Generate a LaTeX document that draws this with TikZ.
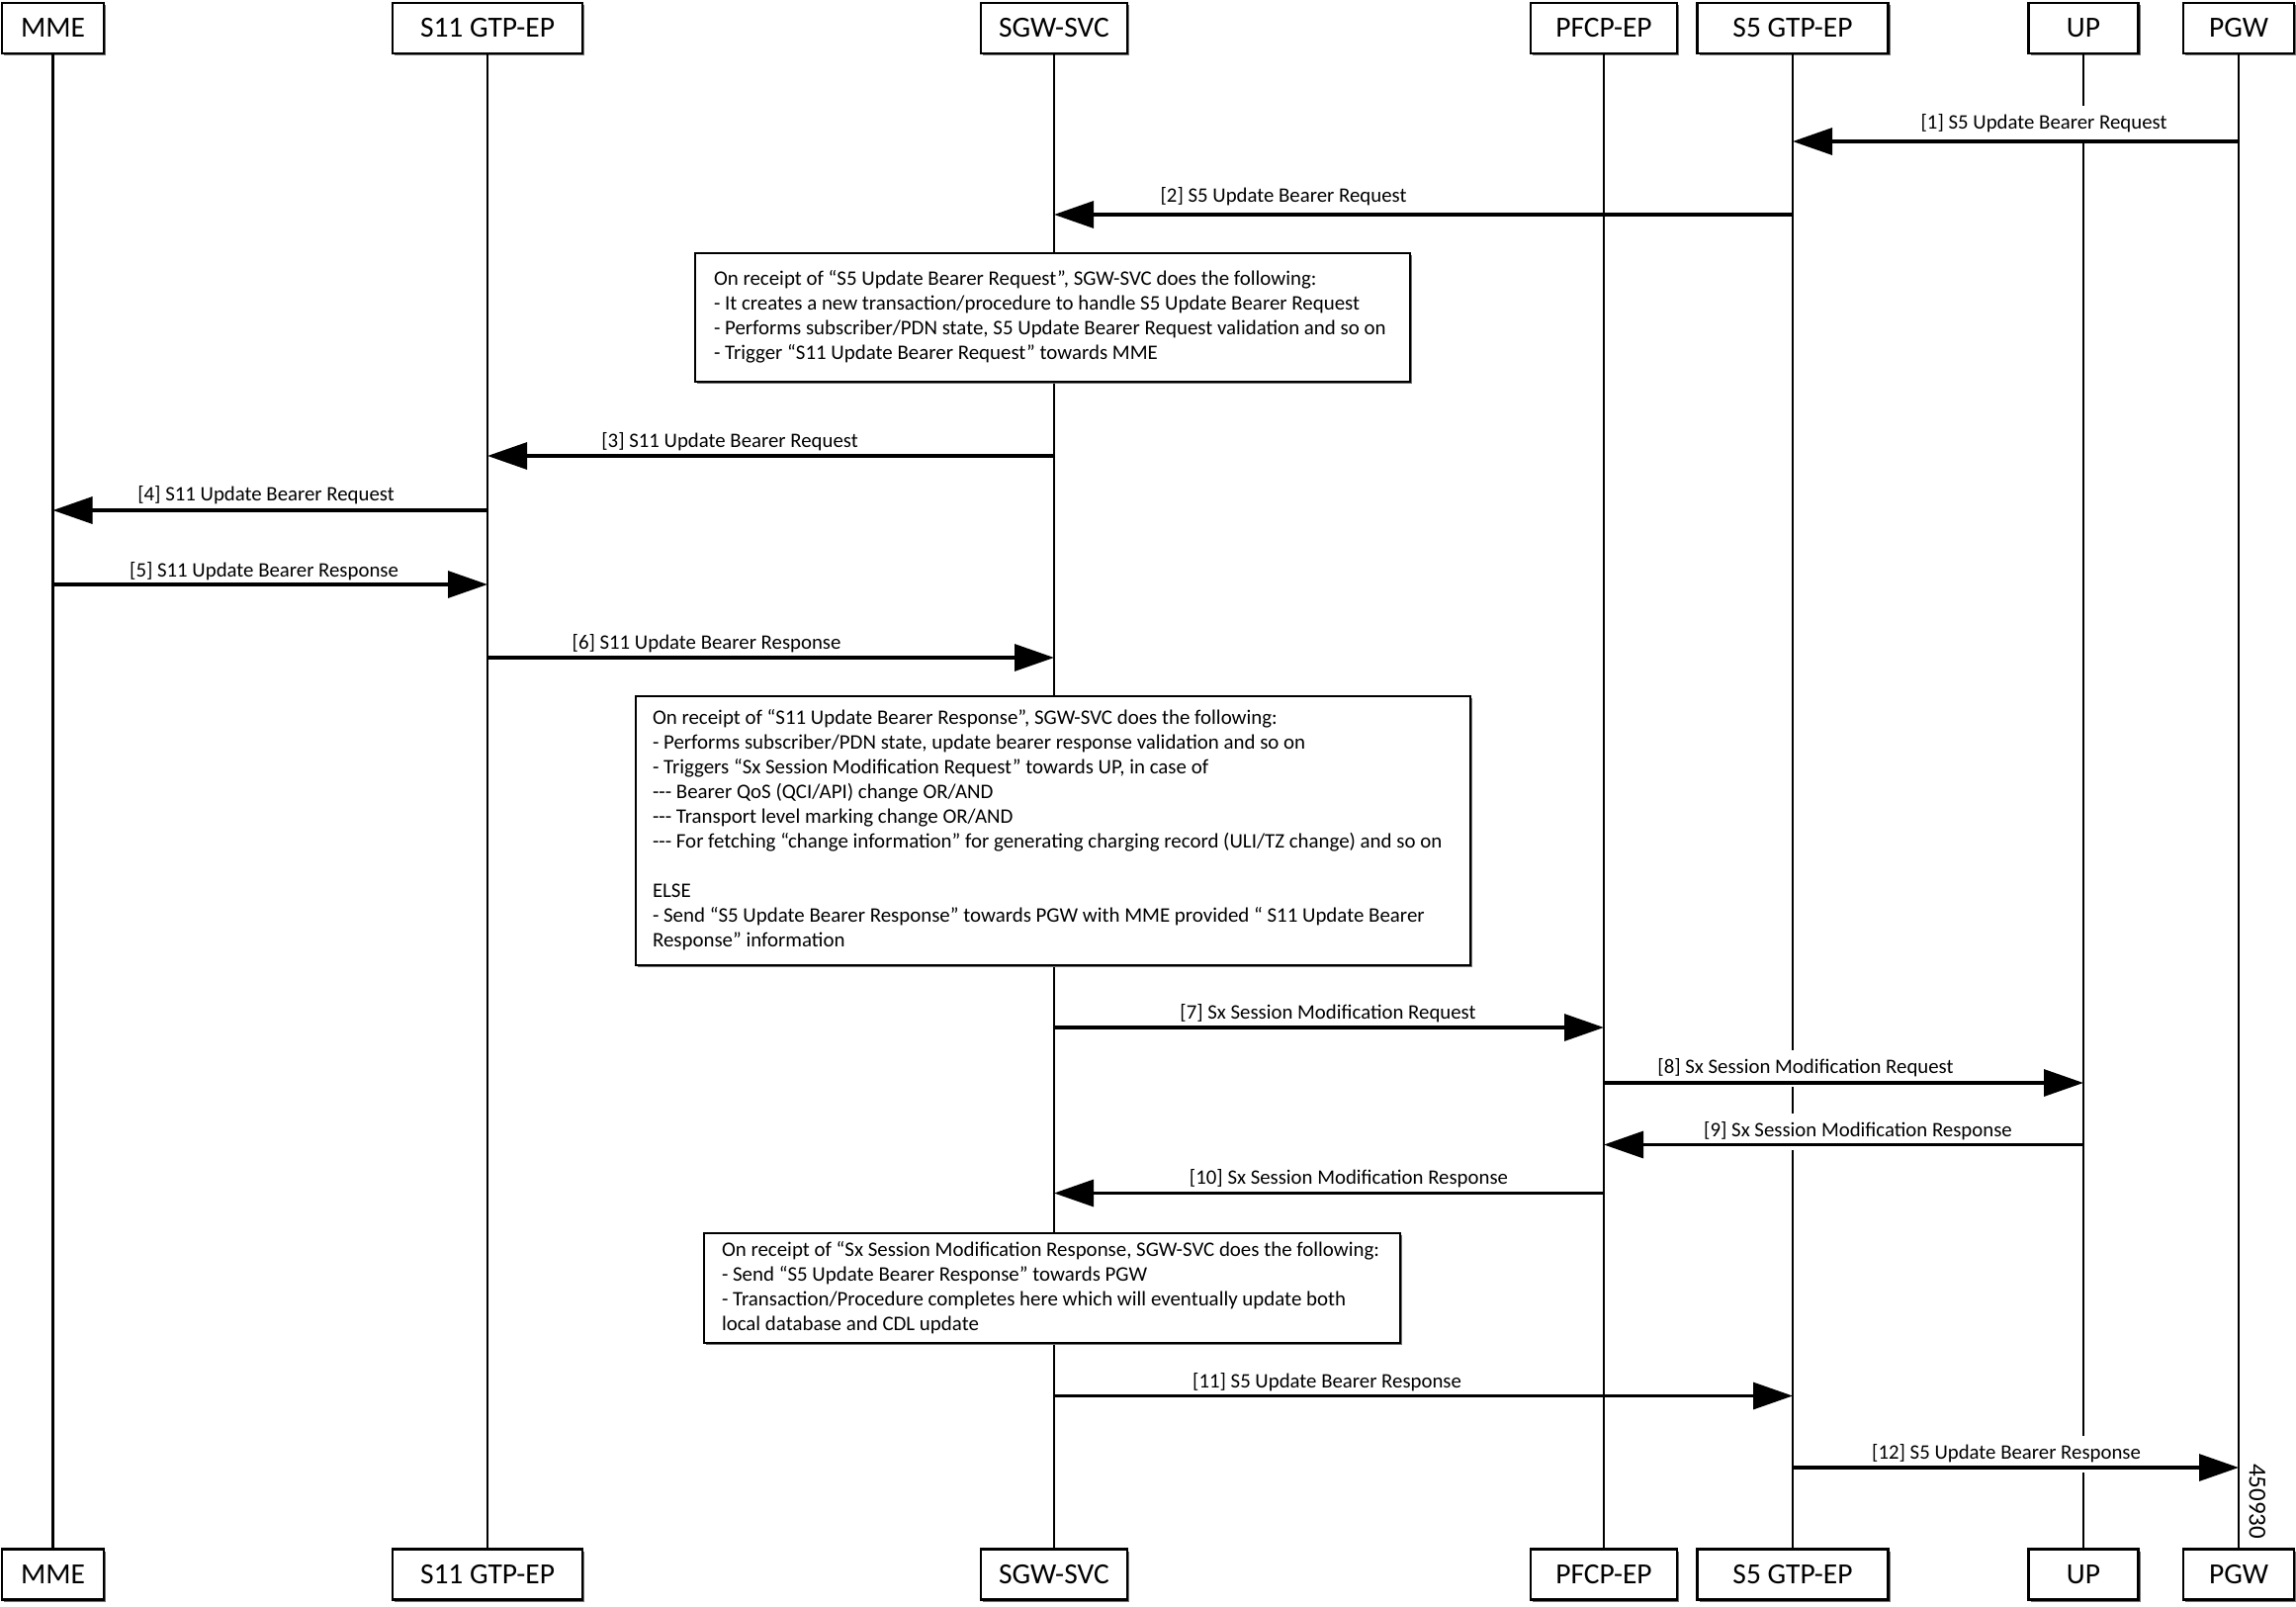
\documentclass[tikz,border=0pt]{standalone}
\usepackage{fontspec}
\setmainfont{Carlito}
\usetikzlibrary{arrows.meta,shadows}
\tikzset{
  shad/.style={drop shadow={shadow xshift=2pt,shadow yshift=-2pt,fill=black!55,opacity=1}},
  head/.style={draw,line width=2.6pt,fill=white,shad,minimum height=51pt,inner sep=0pt,
    font=\fontsize{29.5}{35}\selectfont},
  life/.style={line width=2.8pt},
  msg/.style={line width=3.2pt,-{Triangle[length=40pt,width=27pt]}},
  lbl/.style={fill=white,inner xsep=2pt,inner ysep=0pt,text height=15pt,text depth=5pt,
    minimum height=37pt,font=\fontsize{20.8}{25}\selectfont},
  note/.style={draw,line width=2.6pt,fill=white,shad,inner ysep=0pt,
    font=\fontsize{20.9}{25}\selectfont},
}
\newcommand\notebody[2]{\makebox[#1][l]{\begin{tabular}{@{}l@{}}#2\end{tabular}}}
\begin{document}
\begin{tikzpicture}[x=1pt,y=-1pt]
\useasboundingbox (0,0) rectangle (2322,1625);
% heads (top)
\node[head,minimum width=103pt] (mme)  at (53.5,28.5) {MME};
\node[head,minimum width=192pt] (s11)  at (493,28.5)  {S11 GTP-EP};
\node[head,minimum width=148pt] (sgw)  at (1066,28.5) {SGW-SVC};
\node[head,minimum width=148pt] (pfcp) at (1622,28.5) {PFCP-EP};
\node[head,minimum width=193pt] (s5)   at (1813,28.5) {S5 GTP-EP};
\node[head,minimum width=111pt] (up)   at (2107,28.5) {UP};
\node[head,minimum width=112pt] (pgw)  at (2264,28.5) {PGW};
% heads (bottom)
\node[head,minimum width=103pt] (mmeB)  at (53.5,1592) {MME};
\node[head,minimum width=192pt] (s11B)  at (493,1592)  {S11 GTP-EP};
\node[head,minimum width=148pt] (sgwB)  at (1066,1592) {SGW-SVC};
\node[head,minimum width=148pt] (pfcpB) at (1622,1592) {PFCP-EP};
\node[head,minimum width=193pt] (s5B)   at (1813,1592) {S5 GTP-EP};
\node[head,minimum width=111pt] (upB)   at (2107,1592) {UP};
\node[head,minimum width=112pt] (pgwB)  at (2264,1592) {PGW};
% lifelines
\foreach \a in {mme,s11,sgw,pfcp,s5,up,pgw}{
  \draw[life] (\a.south) -- (\a B.north);
}
% labels
\node[lbl] (l1)  at (2067,125)  {[1] S5 Update Bearer Request};
\node[lbl] (l2)  at (1298,199)  {[2] S5 Update Bearer Request};
\node[lbl] (l3)  at (738,447)   {[3] S11 Update Bearer Request};
\node[lbl] (l4)  at (269,501)   {[4] S11 Update Bearer Request};
\node[lbl] (l5)  at (267,578)   {[5] S11 Update Bearer Response};
\node[lbl] (l6)  at (714.5,651) {[6] S11 Update Bearer Response};
\node[lbl] (l7)  at (1343,1025) {[7] Sx Session Modification Request};
\node[lbl] (l8)  at (1826,1080) {[8] Sx Session Modification Request};
\node[lbl] (l9)  at (1879,1144) {[9] Sx Session Modification Response};
\node[lbl] (l10) at (1364,1192) {[10] Sx Session Modification Response};
\node[lbl] (l11) at (1342,1398) {[11] S5 Update Bearer Response};
\node[lbl] (l12) at (2029,1470) {[12] S5 Update Bearer Response};
% messages
\draw[msg] (pgw |- 0,143)    -- (s5 |- 0,143);
\draw[msg] (s5 |- 0,217)     -- (sgw |- 0,217);
\draw[msg] (sgw |- 0,461)    -- (s11 |- 0,461);
\draw[msg] (s11 |- 0,516)    -- (mme |- 0,516);
\draw[msg] (mme |- 0,591)    -- (s11 |- 0,591);
\draw[msg] (s11 |- 0,665)    -- (sgw |- 0,665);
\draw[msg] (sgw |- 0,1039)   -- (pfcp |- 0,1039);
\draw[msg] (pfcp |- 0,1095)  -- (up |- 0,1095);
\draw[msg] (up |- 0,1157.5)  -- (pfcp |- 0,1157.5);
\draw[msg] (pfcp |- 0,1206.5)-- (sgw |- 0,1206.5);
\draw[msg] (sgw |- 0,1411.5) -- (s5 |- 0,1411.5);
\draw[msg] (s5 |- 0,1484)    -- (pgw |- 0,1484);
% notes
\node[note,minimum height=130pt,inner xsep=19pt] (n1) at (1064.5,321)
 {\notebody{685pt}{On receipt of “S5 Update Bearer Request”, SGW-SVC does the following:\\
  - It creates a new transaction/procedure to handle S5 Update Bearer Request\\
  - Performs subscriber/PDN state, S5 Update Bearer Request validation and so on\\
  - Trigger “S11 Update Bearer Request” towards MME}};
\node[note,minimum height=272pt,inner xsep=17pt] (n2) at (1065,840)
 {\notebody{810pt}{On receipt of “S11 Update Bearer Response”, SGW-SVC does the following:\\
  - Performs subscriber/PDN state, update bearer response validation and so on\\
  - Triggers “Sx Session Modification Request” towards UP, in case of\\
  -{}-{}- Bearer QoS (QCI/API) change OR/AND\\
  -{}-{}- Transport level marking change OR/AND\\
  -{}-{}- For fetching “change information” for generating charging record (ULI/TZ change) and so on\\
  \\
  ELSE\\
  - Send “S5 Update Bearer Response” towards PGW with MME provided “ S11 Update Bearer\\
  Response” information}};
\node[note,minimum height=111pt,inner xsep=18pt] (n3) at (1064,1302.5)
 {\notebody{668pt}{On receipt of “Sx Session Modification Response, SGW-SVC does the following:\\
  - Send “S5 Update Bearer Response” towards PGW\\
  - Transaction/Procedure completes here which will eventually update both\\
  local database and CDL update}};
% figure number
\node[rotate=-90,font=\fontsize{25}{30}\selectfont] (fig) at (2283,1518) {450930};
\end{tikzpicture}
\end{document}
